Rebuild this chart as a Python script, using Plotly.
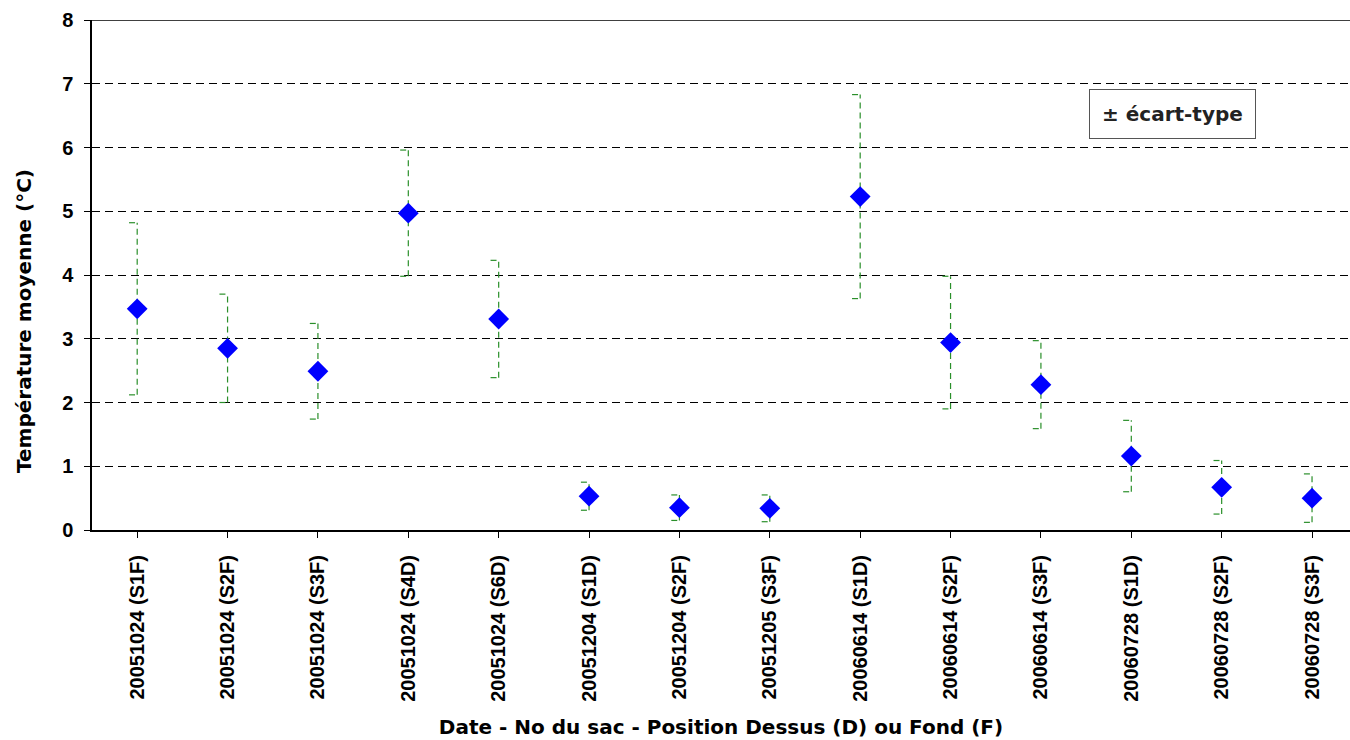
import plotly.graph_objects as go

categories = ["20051024 (S1F)", "20051024 (S2F)", "20051024 (S3F)", "20051024 (S4D)",
              "20051024 (S6D)", "20051204 (S1D)", "20051204 (S2F)", "20051205 (S3F)",
              "20060614 (S1D)", "20060614 (S2F)", "20060614 (S3F)", "20060728 (S1D)",
              "20060728 (S2F)", "20060728 (S3F)"]
mean_temp = [3.47, 2.85, 2.49, 4.97, 3.31, 0.53, 0.35, 0.34, 5.23, 2.94, 2.28, 1.16, 0.67, 0.50]
std_temp = [1.35, 0.85, 0.75, 0.99, 0.92, 0.22, 0.20, 0.21, 1.60, 1.04, 0.69, 0.56, 0.42, 0.38]
y_ticks = [0, 1, 2, 3, 4, 5, 6, 7, 8]

xi = list(range(len(categories)))
cap = 0.09

L, R, T, B = 92, 0, 20, 210
W, H = 1350, 740
plot_w = W - L - R
plot_h = H - T - B

fig = go.Figure()

# dashed error bars (± écart-type)
ex, ey = [], []
for i, m, s in zip(xi, mean_temp, std_temp):
    ex += [i, i, None, i - cap, i, None, i - cap, i, None]
    ey += [m - s, m + s, None, m + s, m + s, None, m - s, m - s, None]
fig.add_trace(go.Scatter(x=ex, y=ey, mode="lines",
                         line=dict(color="#2a8f2a", width=1.2, dash="6px,4px"),
                         hoverinfo="skip", showlegend=False))

fig.add_trace(go.Scatter(x=xi, y=mean_temp, mode="markers",
                         marker=dict(symbol="diamond", size=16, color="#0000ff",
                                     line=dict(width=0)),
                         showlegend=False))

tick_font = dict(size=20, family="Liberation Sans, Arial, sans-serif", weight="bold", color="black")
title_font = dict(size=20, family="DejaVu Sans, sans-serif", weight="bold", color="black")

fig.update_layout(
    width=W, height=H,
    margin=dict(l=L, r=R, t=T, b=B),
    plot_bgcolor="white", paper_bgcolor="white",
    font=dict(family="Liberation Sans, Arial, sans-serif", color="black"),
    xaxis=dict(
        range=[-0.5, 13.42],
        tickmode="array", tickvals=xi, ticktext=categories,
        tickangle=-90, tickfont=tick_font,
        showline=True, linecolor="black", linewidth=2,
        ticks="outside", ticklen=6, tickcolor="black", tickson="boundaries",
        ticklabelstandoff=9,
        showgrid=False, zeroline=False,
        title=dict(text="Date - No du sac - Position Dessus (D) ou Fond (F)",
                   font=title_font, standoff=19),
    ),
    yaxis=dict(
        range=[0, 8], tickmode="array", tickvals=y_ticks,
        tickfont=tick_font,
        showline=True, linecolor="black", linewidth=1.5,
        ticks="outside", ticklen=6, tickcolor="black",
        ticklabelstandoff=7,
        showgrid=True, gridcolor="black", gridwidth=1, griddash="8px,5px",
        zeroline=False,
    ),
    shapes=[dict(type="line", xref="paper", yref="y", x0=0, x1=1, y0=8, y1=8,
                 line=dict(color="black", width=1.5))],
    annotations=[
        dict(x=(1172 - L) / plot_w, y=(H - B - 114) / plot_h,
             xref="paper", yref="paper", xanchor="center", yanchor="middle",
             showarrow=False, text="± écart-type",
             font=dict(size=20, family="DejaVu Sans, sans-serif", weight="bold", color="#222"),
             bordercolor="#555", borderwidth=1, borderpad=12, bgcolor="white"),
        dict(x=(24 - L) / plot_w, y=(H - B - 321) / plot_h,
             xref="paper", yref="paper", xanchor="center", yanchor="middle",
             showarrow=False, textangle=-90, text="Température moyenne (°C)",
             font=title_font),
    ],
)

fig.write_html("out.html")
